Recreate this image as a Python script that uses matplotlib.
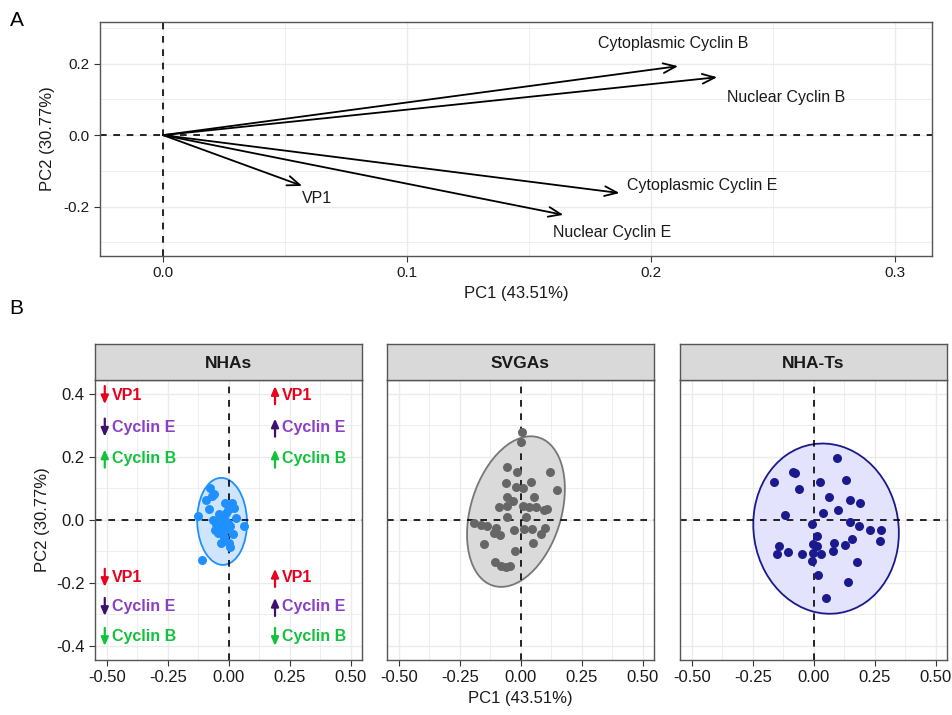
import matplotlib

matplotlib.use("Agg")
import matplotlib.pyplot as plt
import matplotlib.transforms as mtransforms
from matplotlib.patches import Ellipse

plt.rcParams["font.family"] = ["Liberation Sans", "DejaVu Sans"]

# ---- panel A: loadings ----
load_names = ["Cytoplasmic Cyclin B", "Nuclear Cyclin B", "Cytoplasmic Cyclin E",
              "Nuclear Cyclin E", "VP1"]
load_pc1 = [0.211, 0.227, 0.187, 0.164, 0.057]
load_pc2 = [0.193, 0.162, -0.162, -0.223, -0.142]

# ---- panel B: scores per cell type ----
groups = ["NHAs", "SVGAs", "NHA-Ts"]
nha_pc1 = [-0.078, -0.061, -0.092, -0.016, 0.011, 0.020, -0.081, -0.040, -0.010, -0.128,
           0.029, -0.023, -0.051, -0.030, -0.057, -0.012, 0.015, 0.061, -0.033, 0.001,
           0.004, -0.112, -0.044, -0.023, -0.003, -0.064, -0.035, -0.005, -0.045, -0.020,
           0.005, -0.070, -0.015, -0.030]
nha_pc2 = [0.100, 0.083, 0.063, 0.053, 0.053, 0.037, 0.034, 0.019, 0.021, 0.011,
           0.005, -0.005, -0.013, -0.021, -0.032, -0.030, -0.044, -0.021, -0.072, -0.074,
           -0.087, -0.127, -0.042, -0.042, -0.011, 0.000, 0.010, 0.030, -0.025, -0.055,
           -0.020, 0.075, 0.000, -0.008]
svga_pc1 = [0.004, 0.000, -0.057, -0.016, 0.119, -0.059, 0.041, -0.020, 0.007, 0.150,
            -0.057, 0.055, -0.034, -0.089, -0.055, 0.007, 0.034, 0.061, 0.093, 0.109,
            -0.057, 0.020, -0.191, -0.164, -0.137, -0.102, -0.112, -0.085, -0.027, 0.014,
            0.044, 0.098, 0.082, 0.048, -0.150, -0.025, -0.105, -0.082, -0.061, -0.044]
svga_pc2 = [0.277, 0.246, 0.167, 0.153, 0.151, 0.116, 0.120, 0.103, 0.101, 0.095,
            0.072, 0.072, 0.060, 0.042, 0.044, 0.044, 0.042, 0.039, 0.030, 0.034,
            0.008, 0.008, -0.011, -0.016, -0.019, -0.026, -0.042, -0.048, -0.032, -0.030,
            -0.030, -0.026, -0.046, -0.072, -0.077, -0.098, -0.135, -0.146, -0.150, -0.146]
nhat_pc1 = [0.093, -0.085, -0.078, -0.164, 0.025, 0.131, -0.060, 0.061, 0.148, 0.190,
            0.097, 0.038, -0.119, -0.008, 0.148, 0.183, 0.231, 0.277, 0.012, 0.157,
            0.082, 0.272, -0.003, 0.011, 0.127, -0.145, -0.152, -0.105, -0.048, -0.005,
            0.029, 0.078, -0.008, 0.175, 0.018, 0.141, 0.049]
nhat_pc2 = [0.196, 0.153, 0.148, 0.120, 0.121, 0.127, 0.097, 0.073, 0.063, 0.054,
            0.032, 0.021, 0.015, -0.013, -0.008, -0.020, -0.033, -0.033, -0.051, -0.060,
            -0.072, -0.068, -0.076, -0.083, -0.079, -0.083, -0.108, -0.102, -0.107, -0.106,
            -0.108, -0.098, -0.132, -0.133, -0.175, -0.196, -0.249]
# 95% ellipses: centre x, centre y, width, height, angle
ell_cx = [-0.028, -0.020, 0.050]
ell_cy = [-0.005, 0.026, -0.028]
ell_w = [0.276, 0.511, 0.600]
ell_h = [0.204, 0.357, 0.536]
ell_angle = [93, 60, -13]

point_colors = ["#1E90FF", "#666666", "#1A1A8E"]
fill_colors = ["#CFE5FB", "#DADADA", "#E3E3FD"]
edge_colors = ["#1E90FF", "#777777", "#1A1A8E"]

# quadrant notes in the NHAs panel
note_x = [-0.509, 0.189]
note_y_top = [0.395, 0.292, 0.194]
note_y_bot = [-0.184, -0.276, -0.371]
note_labels = ["VP1", "Cyclin E", "Cyclin B"]
note_text_colors = ["#E8001C", "#8A3FC8", "#12C23C"]
note_arrow_colors = ["#E8001C", "#3D0F6E", "#12C23C"]
# +1 = up, -1 = down, per quadrant, per marker
note_dirs = {
    "tl": [-1, -1, 1],
    "tr": [1, 1, 1],
    "bl": [-1, -1, -1],
    "br": [1, 1, -1],
}

GRID = "#EBEBEB"


def style_axes(ax, tick_size):
    ax.set_facecolor("white")
    for s in ax.spines.values():
        s.set_color("#555555")
        s.set_linewidth(1.0)
    ax.grid(True, which="major", color=GRID, lw=1.0, zorder=0)
    ax.grid(True, which="minor", color=GRID, lw=0.6, zorder=0)
    ax.set_axisbelow(True)
    ax.tick_params(which="major", length=4, color="#333333", labelsize=tick_size,
                   labelcolor="#1A1A1A")
    ax.tick_params(which="minor", length=0)


fig = plt.figure(figsize=(9.53, 7.15), dpi=100)

# ---------- panel A ----------
axA = fig.add_axes([0.105, 0.642, 0.873, 0.327])
style_axes(axA, 11)
axA.set_xlim(-0.0258, 0.315)
axA.set_ylim(-0.338, 0.316)
axA.set_xticks([0.0, 0.1, 0.2, 0.3])
axA.set_xticklabels(["0.0", "0.1", "0.2", "0.3"])
axA.set_xticks([0.05, 0.15, 0.25], minor=True)
axA.set_yticks([-0.2, 0.0, 0.2])
axA.set_yticklabels(["-0.2", "0.0", "0.2"])
axA.set_yticks([-0.3, -0.1, 0.1, 0.3], minor=True)
axA.axhline(0, color="black", ls=(0, (4, 4)), lw=1.2, zorder=2)
axA.axvline(0, color="black", ls=(0, (4, 4)), lw=1.2, zorder=2)
for name, x, y in zip(load_names, load_pc1, load_pc2):
    axA.annotate("", xy=(x, y), xytext=(0, 0),
                 arrowprops=dict(arrowstyle="->,head_length=0.9,head_width=0.35",
                                 color="black", lw=1.3, shrinkA=0, shrinkB=0),
                 zorder=3)
label_pos = {
    "Cytoplasmic Cyclin B": (0.209, 0.255, "center"),
    "Nuclear Cyclin B": (0.231, 0.105, "left"),
    "Cytoplasmic Cyclin E": (0.190, -0.142, "left"),
    "Nuclear Cyclin E": (0.184, -0.272, "center"),
    "VP1": (0.057, -0.177, "left"),
}
for name in load_names:
    lx, ly, ha = label_pos[name]
    axA.text(lx, ly, name, ha=ha, va="center", fontsize=11.5, color="#1A1A1A")
axA.set_xlabel("PC1 (43.51%)", fontsize=12, color="#1A1A1A", labelpad=4)
axA.set_ylabel("PC2 (30.77%)", fontsize=12, color="#1A1A1A", labelpad=6)
fig.text(0.010, 0.972, "A", fontsize=15, va="center")
fig.text(0.010, 0.569, "B", fontsize=15, va="center")

# ---------- panel B ----------
lefts = [0.0997, 0.406, 0.7135]
width = 0.280
bottom = 0.077
height = 0.392
xs_all = [nha_pc1, svga_pc1, nhat_pc1]
ys_all = [nha_pc2, svga_pc2, nhat_pc2]
for i, g in enumerate(groups):
    ax = fig.add_axes([lefts[i], bottom, width, height])
    style_axes(ax, 12)
    ax.set_xlim(-0.549, 0.545)
    ax.set_ylim(-0.444, 0.444)
    ax.set_xticks([-0.5, -0.25, 0.0, 0.25, 0.5])
    ax.set_xticklabels(["-0.50", "-0.25", "0.00", "0.25", "0.50"])
    ax.set_xticks([-0.375, -0.125, 0.125, 0.375], minor=True)
    ax.set_yticks([-0.4, -0.2, 0.0, 0.2, 0.4])
    ax.set_yticks([-0.3, -0.1, 0.1, 0.3], minor=True)
    if i == 0:
        ax.set_yticklabels(["-0.4", "-0.2", "0.0", "0.2", "0.4"])
    else:
        ax.tick_params(axis="y", which="major", length=0, labelleft=False)
    ax.add_patch(Ellipse((ell_cx[i], ell_cy[i]), ell_w[i], ell_h[i], angle=ell_angle[i],
                         facecolor=fill_colors[i], edgecolor=edge_colors[i], lw=1.3,
                         zorder=1.5))
    ax.scatter(xs_all[i], ys_all[i], s=42, color=point_colors[i], lw=0, zorder=3)
    ax.axhline(0, color="black", ls=(0, (4, 4)), lw=1.2, zorder=2.5)
    ax.axvline(0, color="black", ls=(0, (4, 4)), lw=1.2, zorder=2.5)

    strip = fig.add_axes([lefts[i], bottom + height, width, 0.050])
    strip.set_facecolor("#D9D9D9")
    strip.set_xticks([])
    strip.set_yticks([])
    for s in strip.spines.values():
        s.set_color("#555555")
        s.set_linewidth(1.0)
    strip.text(0.5, 0.45, g, ha="center", va="center", fontsize=12.5,
               fontweight="bold", color="#1A1A1A", transform=strip.transAxes)

    if i == 0:
        up = mtransforms.offset_copy(ax.transData, fig=fig, x=0, y=6.5, units="points")
        dn = mtransforms.offset_copy(ax.transData, fig=fig, x=0, y=-6.5, units="points")
        corners = [("tl", note_x[0], note_y_top), ("tr", note_x[1], note_y_top),
                   ("bl", note_x[0], note_y_bot), ("br", note_x[1], note_y_bot)]
        for key, x0, ys in corners:
            for j, y0 in enumerate(ys):
                d = note_dirs[key][j]
                tip, tail = (up, dn) if d > 0 else (dn, up)
                ax.annotate("", xy=(x0, y0), xycoords=tip,
                            xytext=(x0, y0), textcoords=tail,
                            arrowprops=dict(arrowstyle="-|>,head_length=0.5,head_width=0.22",
                                            color=note_arrow_colors[j], lw=1.6,
                                            shrinkA=0, shrinkB=0, mutation_scale=10),
                            zorder=4)
                ax.annotate(note_labels[j], xy=(x0, y0), xytext=(5, 0),
                            textcoords="offset points", ha="left", va="center",
                            fontsize=11.5, fontweight="bold",
                            color=note_text_colors[j], zorder=4)
        ax.set_ylabel("PC2 (30.77%)", fontsize=12, color="#1A1A1A", labelpad=4)
    if i == 1:
        ax.set_xlabel("PC1 (43.51%)", fontsize=12, color="#1A1A1A", labelpad=4)

fig.savefig("out.png", dpi=100)
